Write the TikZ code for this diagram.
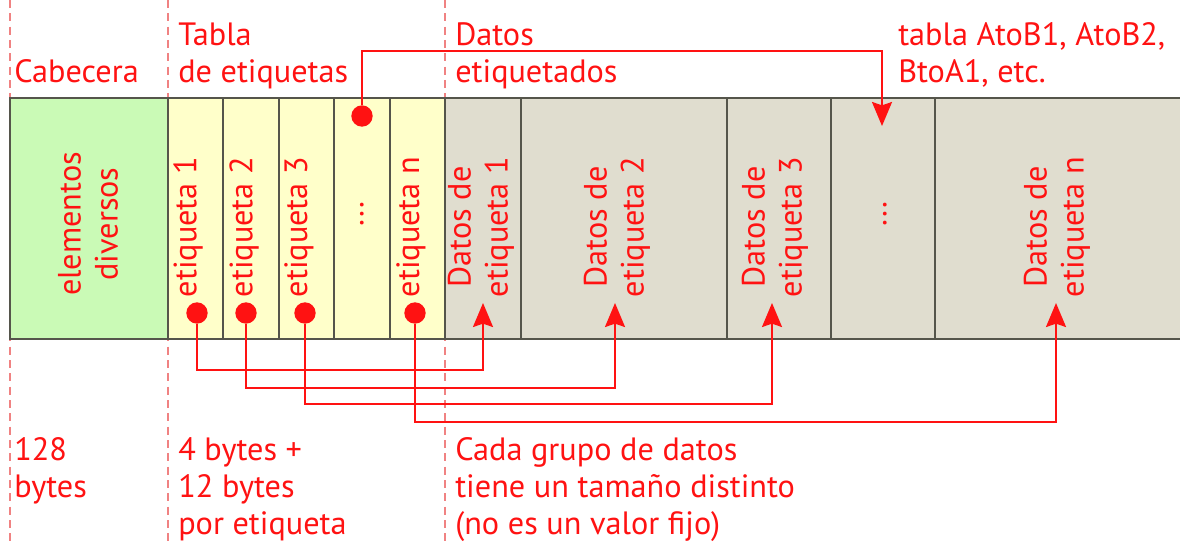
\documentclass[tikz,border=0pt]{standalone}
\usepackage{fontspec}
\setmainfont{PT Sans}
\usetikzlibrary{arrows.meta}
\definecolor{rojo}{RGB}{255,18,18}
\definecolor{rosa}{RGB}{240,130,130}
\definecolor{verde}{RGB}{202,250,182}
\definecolor{amarillo}{RGB}{255,255,202}
\definecolor{gris}{RGB}{224,221,207}
\definecolor{borde}{RGB}{85,85,75}
\newcommand{\letra}{\fontsize{24.2}{27.75}\selectfont}
\begin{document}
\begin{tikzpicture}[x=0.75pt,y=0.75pt,yscale=-1,xscale=1,
  guia/.style={draw=rosa,line width=1.1pt,dash pattern={on 6pt off 4pt}},
  celda/.style={draw=borde,line width=1.3pt},
  texto/.style={text=rojo,font=\letra,inner sep=0pt},
  vertical/.style={texto,rotate=90,align=center},
  punto/.style={circle,fill=rojo,inner sep=0pt,minimum size=16pt},
  enlace/.style={draw=rojo,line width=1.5pt,-{Stealth[length=18pt,width=15pt,inset=2.5pt]}}]
\useasboundingbox (0,0) rectangle (1180,542);

%Dashed guides
\draw [guia] (10,0) -- (10,542) ;
\draw [guia] (168,0) -- (168,542) ;
\draw [guia] (445,0) -- (445,542) ;

%Shape: Cabecera
\draw [celda,fill=verde] (10,98) rectangle (168,339) ;
%Shape: Tabla de etiquetas
\draw [celda,fill=amarillo] (168,98) rectangle (223,339) ;
\draw [celda,fill=amarillo] (223,98) rectangle (279,339) ;
\draw [celda,fill=amarillo] (279,98) rectangle (334,339) ;
\draw [celda,fill=amarillo] (334,98) rectangle (390,339) ;
\draw [celda,fill=amarillo] (390,98) rectangle (445,339) ;
%Shape: Datos etiquetados
\draw [celda,fill=gris] (445,98) rectangle (521,339) ;
\draw [celda,fill=gris] (521,98) rectangle (727,339) ;
\draw [celda,fill=gris] (727,98) rectangle (831,339) ;
\draw [celda,fill=gris] (831,98) rectangle (935,339) ;
\draw [celda,fill=gris] (935,98) rectangle (1195,339) ;

% Text Node
\node [vertical] (elem) at (88,224) {elementos\\diversos};
\node [vertical] (et1) at (188,227) {etiqueta 1};
\node [vertical] (et2) at (244,227) {etiqueta 2};
\node [vertical] (et3) at (299,227) {etiqueta 3};
\node [vertical] (etx) at (362,214) {...};
\node [vertical] (etn) at (411,227) {etiqueta n};
\node [vertical] (dat1) at (481,227) {Datos de\\etiqueta 1};
\node [vertical] (dat2) at (617,227) {Datos de\\etiqueta 2};
\node [vertical] (dat3) at (775,227) {Datos de\\etiqueta 3};
\node [vertical] (datx) at (885,214) {...};
\node [vertical] (datn) at (1057,227) {Datos de\\etiqueta n};

%Arrow targets
\coordinate (d1) at (483,303) ;
\coordinate (d2) at (615,303) ;
\coordinate (d3) at (772,303) ;
\coordinate (dn) at (1056,303) ;
\coordinate (dt) at (882,126) ;

%Dots
\node [punto] (p1) at (197,313) {};
\node [punto] (p2) at (246,313) {};
\node [punto] (p3) at (305,313) {};
\node [punto] (pn) at (415,313) {};
\node [punto] (pt) at (362,116) {};

%Connectors
\draw [enlace] (p1) -- ++(0,57) -| (d1) ;
\draw [enlace] (p2) -- ++(0,75) -| (d2) ;
\draw [enlace] (p3) -- ++(0,91) -| (d3) ;
\draw [enlace] (pn) -- ++(0,109) -| (dn) ;
\draw [enlace] (pt) -- ++(0,-65) -| (dt) ;

% Text Node
\node [texto,anchor=base west] (cab) at (14,82) {Cabecera};
\node [texto,anchor=base west,align=left] (tab) at (178,82) {Tabla\\de etiquetas};
\node [texto,anchor=base west,align=left] (dat) at (455,82) {Datos\\etiquetados};
\node [texto,anchor=base west,align=left] (atob) at (898,82) {tabla AtoB1, AtoB2,\\BtoA1, etc.};
\node [texto,anchor=base west,align=left] (b128) at (14,497) {128\\bytes};
\node [texto,anchor=base west,align=left] (b4) at (178,534) {4 bytes +\\12 bytes\\por etiqueta};
\node [texto,anchor=base west,align=left] (grp) at (455,534) {Cada grupo de datos\\tiene un tamaño distinto\\(no es un valor fijo)};

\end{tikzpicture}
\end{document}
